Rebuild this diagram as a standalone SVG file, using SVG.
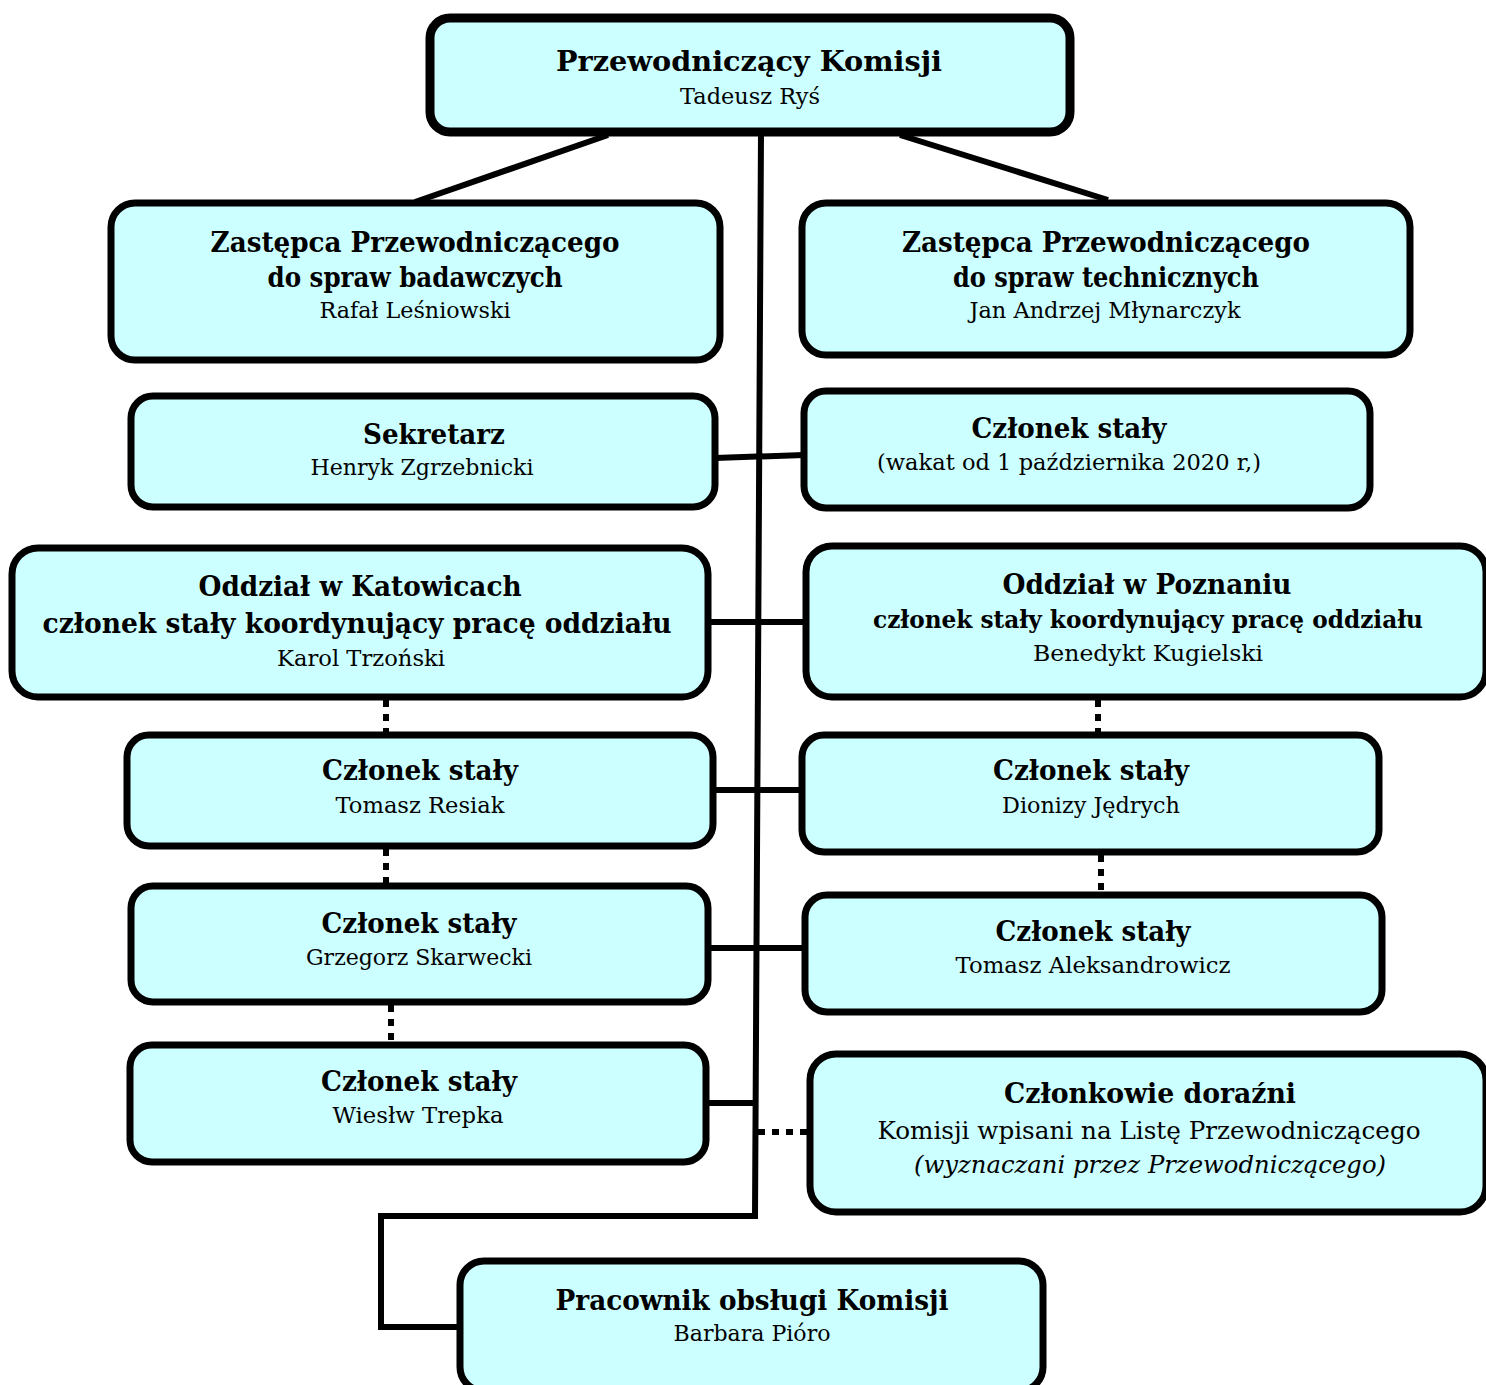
<svg xmlns="http://www.w3.org/2000/svg" width="1486" height="1385" viewBox="0 0 1486 1385">
<style>
.box{fill:#ccffff;stroke:#000;stroke-width:7}
.top{stroke-width:9}
.ln{fill:none;stroke:#000;stroke-width:6}
.dot{fill:none;stroke:#000;stroke-width:6;stroke-dasharray:7 7}
text{font-family:"DejaVu Serif","Liberation Serif",serif;fill:#000;text-anchor:middle}
.b{font-weight:bold;font-size:28.5px}
.r{font-size:23px}
.i{font-style:italic;font-size:23px}
</style>
<rect width="1486" height="1385" fill="#fff"/>
<g id="connectors">
<polyline class="ln" points="761,133 755,1216 381,1216 381,1327 460,1327"/>
<line class="ln" x1="608" y1="135" x2="415" y2="202"/>
<line class="ln" x1="900" y1="135" x2="1108" y2="200"/>
<line class="ln" x1="715" y1="458" x2="804" y2="455"/>
<line class="ln" x1="708" y1="622" x2="806" y2="622"/>
<line class="ln" x1="713" y1="790" x2="802" y2="790"/>
<line class="ln" x1="708" y1="948" x2="805" y2="948"/>
<line class="ln" x1="706" y1="1103" x2="755" y2="1103"/>
<line class="dot" x1="758" y1="1132" x2="810" y2="1132"/>
<line class="dot" x1="386" y1="700" x2="386" y2="735"/>
<line class="dot" x1="386" y1="849" x2="386" y2="886"/>
<line class="dot" x1="391" y1="1005" x2="391" y2="1045"/>
<line class="dot" x1="1098" y1="700" x2="1098" y2="735"/>
<line class="dot" x1="1101" y1="855" x2="1101" y2="895"/>
</g>
<g id="przewodniczacy">
<rect class="box top" x="430" y="18" width="640" height="114" rx="20"/>
<text class="b" x="749" y="71" textLength="386" lengthAdjust="spacingAndGlyphs">Przewodniczący Komisji</text>
<text class="r" x="750" y="104" textLength="140" lengthAdjust="spacingAndGlyphs">Tadeusz Ryś</text>
</g>
<g id="zastepca-badawczy">
<rect class="box" x="111" y="203" width="609" height="157" rx="24"/>
<text class="b" x="415" y="252" textLength="409" lengthAdjust="spacingAndGlyphs">Zastępca Przewodniczącego</text>
<text class="b" x="415" y="287" textLength="295" lengthAdjust="spacingAndGlyphs">do spraw badawczych</text>
<text class="r" x="415" y="318" textLength="191" lengthAdjust="spacingAndGlyphs">Rafał Leśniowski</text>
</g>
<g id="zastepca-techniczny">
<rect class="box" x="802" y="203" width="608" height="152" rx="24"/>
<text class="b" x="1106" y="252" textLength="408" lengthAdjust="spacingAndGlyphs">Zastępca Przewodniczącego</text>
<text class="b" x="1106" y="287" textLength="306" lengthAdjust="spacingAndGlyphs">do spraw technicznych</text>
<text class="r" x="1105" y="318" textLength="271" lengthAdjust="spacingAndGlyphs">Jan Andrzej Młynarczyk</text>
</g>
<g id="sekretarz">
<rect class="box" x="131" y="396" width="584" height="111" rx="22"/>
<text class="b" x="434" y="444" textLength="142" lengthAdjust="spacingAndGlyphs">Sekretarz</text>
<text class="r" x="422" y="475" textLength="223" lengthAdjust="spacingAndGlyphs">Henryk Zgrzebnicki</text>
</g>
<g id="czlonek-wakat">
<rect class="box" x="804" y="391" width="566" height="117" rx="22"/>
<text class="b" x="1069" y="438" textLength="195" lengthAdjust="spacingAndGlyphs">Członek stały</text>
<text class="r" x="1069" y="470" textLength="384" lengthAdjust="spacingAndGlyphs">(wakat od 1 października 2020 r,)</text>
</g>
<g id="oddzial-katowice">
<rect class="box" x="12" y="548" width="696" height="149" rx="26"/>
<text class="b" x="360" y="596" textLength="323" lengthAdjust="spacingAndGlyphs">Oddział w Katowicach</text>
<text class="b" x="357" y="633" textLength="629" lengthAdjust="spacingAndGlyphs">członek stały koordynujący pracę oddziału</text>
<text class="r" x="361" y="666" textLength="168" lengthAdjust="spacingAndGlyphs">Karol Trzoński</text>
</g>
<g id="oddzial-poznan">
<rect class="box" x="806" y="546" width="680" height="151" rx="26"/>
<text class="b" x="1147" y="594" textLength="289" lengthAdjust="spacingAndGlyphs">Oddział w Poznaniu</text>
<text class="b" x="1148" y="628" style="font-size:24.5px" textLength="550" lengthAdjust="spacingAndGlyphs">członek stały koordynujący pracę oddziału</text>
<text class="r" x="1148" y="661" textLength="230" lengthAdjust="spacingAndGlyphs">Benedykt Kugielski</text>
</g>
<g id="czlonek-resiak">
<rect class="box" x="127" y="735" width="586" height="111" rx="22"/>
<text class="b" x="420" y="780" textLength="196" lengthAdjust="spacingAndGlyphs">Członek stały</text>
<text class="r" x="420" y="813" textLength="169" lengthAdjust="spacingAndGlyphs">Tomasz Resiak</text>
</g>
<g id="czlonek-jedrych">
<rect class="box" x="802" y="735" width="577" height="117" rx="22"/>
<text class="b" x="1091" y="780" textLength="196" lengthAdjust="spacingAndGlyphs">Członek stały</text>
<text class="r" x="1091" y="813" textLength="178" lengthAdjust="spacingAndGlyphs">Dionizy Jędrych</text>
</g>
<g id="czlonek-skarwecki">
<rect class="box" x="131" y="886" width="577" height="116" rx="22"/>
<text class="b" x="419" y="933" textLength="195" lengthAdjust="spacingAndGlyphs">Członek stały</text>
<text class="r" x="419" y="965" textLength="226" lengthAdjust="spacingAndGlyphs">Grzegorz Skarwecki</text>
</g>
<g id="czlonek-aleksandrowicz">
<rect class="box" x="805" y="895" width="577" height="117" rx="22"/>
<text class="b" x="1093" y="941" textLength="195" lengthAdjust="spacingAndGlyphs">Członek stały</text>
<text class="r" x="1093" y="973" textLength="275" lengthAdjust="spacingAndGlyphs">Tomasz Aleksandrowicz</text>
</g>
<g id="czlonek-trepka">
<rect class="box" x="130" y="1045" width="576" height="117" rx="22"/>
<text class="b" x="419" y="1091" textLength="196" lengthAdjust="spacingAndGlyphs">Członek stały</text>
<text class="r" x="418" y="1123" textLength="171" lengthAdjust="spacingAndGlyphs">Wiesłw Trepka</text>
</g>
<g id="czlonkowie-dorazni">
<rect class="box" x="810" y="1054" width="676" height="158" rx="26"/>
<text class="b" x="1150" y="1103" textLength="292" lengthAdjust="spacingAndGlyphs">Członkowie doraźni</text>
<text class="r" x="1149" y="1139" style="font-size:25px" textLength="543" lengthAdjust="spacingAndGlyphs">Komisji wpisani na Listę Przewodniczącego</text>
<text class="i" x="1150" y="1173" style="font-size:25px" textLength="472" lengthAdjust="spacingAndGlyphs">(wyznaczani przez Przewodniczącego)</text>
</g>
<g id="pracownik">
<rect class="box" x="460" y="1261" width="583" height="130" rx="24"/>
<text class="b" x="752" y="1310" textLength="393" lengthAdjust="spacingAndGlyphs">Pracownik obsługi Komisji</text>
<text class="r" x="752" y="1341" textLength="157" lengthAdjust="spacingAndGlyphs">Barbara Pióro</text>
</g>
</svg>
